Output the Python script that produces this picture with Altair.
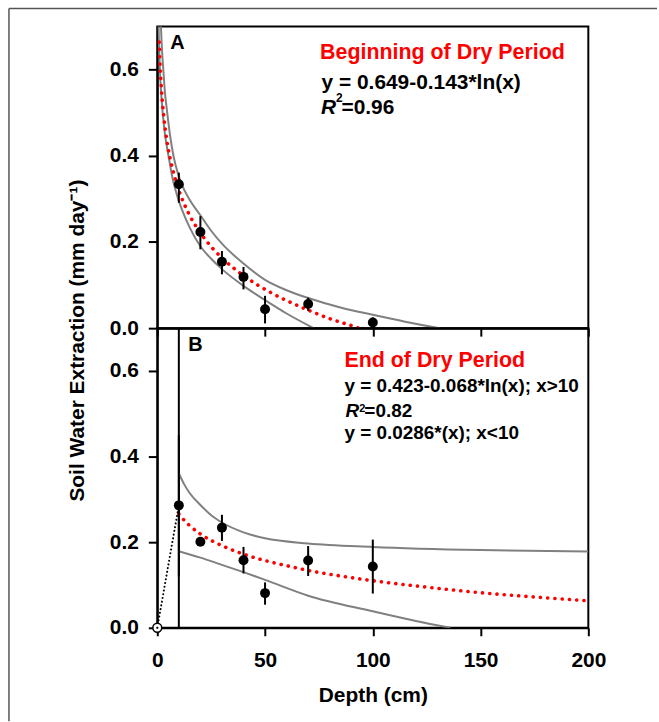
import altair as alt
import pandas as pd

FONT = "Liberation Sans"

# ---------------- data ----------------
depth = [10, 20, 30, 40, 50, 70, 100]

a_mean = [0.334, 0.223, 0.154, 0.119, 0.044, 0.056, 0.013]
a_low = [0.291, 0.183, 0.125, 0.090, 0.011, 0.040, 0.000]
a_high = [0.361, 0.260, 0.179, 0.142, 0.075, 0.071, 0.025]

b_mean = [0.286, 0.201, 0.234, 0.158, 0.081, 0.157, 0.143]
b_low = [0.120, 0.195, 0.203, 0.127, 0.054, 0.121, 0.080]
b_high = [0.450, 0.207, 0.264, 0.189, 0.106, 0.191, 0.206]

a_fit_x = [0.9, 1.2, 1.6, 2, 2.5, 3, 4, 5, 6, 8, 10, 12, 15, 20, 25, 30, 40, 50, 60, 70, 80, 90, 93.5]
a_fit_y = [0.664, 0.623, 0.582, 0.550, 0.518, 0.492, 0.451, 0.419, 0.393, 0.352, 0.320, 0.294,
           0.262, 0.221, 0.189, 0.163, 0.122, 0.090, 0.064, 0.042, 0.022, 0.006, 0.0]

a_up_x = [1.5, 1.7, 2.2, 2.8, 3.5, 4.5, 6, 7.5, 9.5, 11.4, 15, 20, 25, 30, 40, 50, 60, 70, 85, 100, 115, 131]
a_up_y = [0.73, 0.70, 0.645, 0.60, 0.55, 0.505, 0.445, 0.40, 0.36, 0.333, 0.298, 0.262, 0.226,
          0.196, 0.150, 0.112, 0.088, 0.070, 0.048, 0.031, 0.015, 0.0]

a_dn_x = [0.5, 0.6, 0.8, 1.2, 1.8, 2.5, 3.5, 5.2, 7, 9.5, 12, 15, 20, 25, 30, 40, 50, 60, 72.5]
a_dn_y = [0.73, 0.70, 0.66, 0.60, 0.545, 0.50, 0.452, 0.40, 0.350, 0.303, 0.268, 0.234, 0.190,
          0.161, 0.137, 0.098, 0.065, 0.034, 0.0]

b_fit_x = [10, 12.5, 15, 20, 25, 30, 40, 50, 60, 70, 85, 100, 125, 150, 175, 200]
b_fit_y = [0.266, 0.251, 0.239, 0.219, 0.204, 0.192, 0.172, 0.157, 0.145, 0.134, 0.121, 0.110,
           0.095, 0.082, 0.072, 0.063]

b_up_x = [10, 12.5, 15, 20, 25, 30, 40, 50, 70, 100, 150, 200]
b_up_y = [0.361, 0.335, 0.315, 0.287, 0.263, 0.246, 0.223, 0.209, 0.197, 0.189, 0.1815, 0.178]

b_dn_x = [10, 20, 30, 40, 50, 70, 100, 120, 136]
b_dn_y = [0.179, 0.164, 0.147, 0.130, 0.112, 0.075, 0.0386, 0.016, 0.0]

b_lin_x = [0, 10]
b_lin_y = [0.0, 0.286]

origin_x = [0]
origin_y = [0.0]

b_vline_x = [10]
b_vline_y0 = [0.0]
b_vline_y1 = [0.7]

x_ticks = [0, 50, 100, 150, 200]
y_ticks = [0.0, 0.2, 0.4, 0.6]

label_a = ["A"]
label_b = ["B"]
title_a = ["Beginning of Dry Period"]
eq_a = ["y = 0.649-0.143*ln(x)"]
r2_a = ["=0.96"]
title_b = ["End of Dry Period"]
eq_b1 = ["y = 0.423-0.068*ln(x); x>10"]
r2_b = ["=0.82"]
eq_b2 = ["y = 0.0286*(x); x<10"]
r_txt = ["R"]
sup_txt = ["2"]

y_title = "Soil Water Extraction (mm day\u207b\u00b9)"
x_title = "Depth (cm)"

# ---------------- helpers ----------------
xs = alt.Scale(domain=[0, 200], nice=False, zero=False)
ys = alt.Scale(domain=[0, 0.7], nice=False, zero=False)

common_axis = dict(grid=False, domainColor="black", domainWidth=2, tickColor="black",
                   tickWidth=2, labelFont=FONT, labelFontSize=21, labelFontWeight="bold",
                   labelColor="black", titleFont=FONT, titleFontWeight="bold",
                   titleColor="black", titleFontSize=21)

ax_a_x = alt.Axis(values=x_ticks, labels=False, tickSize=8, title=None, **common_axis)
ax_a_y = alt.Axis(values=y_ticks, format=".1f", tickSize=9, labelPadding=10,
                  title=y_title, titleX=-80, titleY=315, titleAngle=270,
                  titleAlign="center", titleBaseline="middle", **common_axis)
ax_b_x = alt.Axis(values=x_ticks, format="d", tickSize=8, labelPadding=14, labelFlush=False,
                  title=x_title, titleX=216.5, titleY=68, titleAlign="center",
                  titleBaseline="middle", **common_axis)
ax_b_y = alt.Axis(values=y_ticks, format=".1f", tickSize=9, labelPadding=10, title=None,
                  **common_axis)


def X(f, ax):
    return alt.X(f, type="quantitative", scale=xs, axis=ax)


def Y(f, ax):
    return alt.Y(f, type="quantitative", scale=ys, axis=ax)


def line_df(xv, yv):
    return pd.DataFrame({"x": xv, "y": yv})


def text_layer(txt, px, py, size, color="black", style="normal"):
    return alt.Chart(pd.DataFrame({"t": txt})).mark_text(
        align="left", baseline="alphabetic", font=FONT, fontSize=size,
        fontWeight="bold", fontStyle=style, color=color
    ).encode(x=alt.value(px), y=alt.value(py), text="t:N")


def panel(ax_x, ax_y, fit_x, fit_y, up_x, up_y, dn_x, dn_y, mean, low, high):
    pts = pd.DataFrame({"x": depth, "y": mean, "lo": low, "hi": high})
    gray_up = alt.Chart(line_df(up_x, up_y)).mark_line(
        color="#808080", strokeWidth=2, clip=True, interpolate="monotone"
    ).encode(x=X("x", ax_x), y=Y("y", ax_y))
    gray_dn = alt.Chart(line_df(dn_x, dn_y)).mark_line(
        color="#808080", strokeWidth=2, clip=True, interpolate="monotone"
    ).encode(x=X("x", ax_x), y=Y("y", ax_y))
    red = alt.Chart(line_df(fit_x, fit_y)).mark_line(
        color="#ff0000", strokeWidth=3.6, strokeDash=[0.1, 7.2], strokeCap="round",
        interpolate="monotone", clip=True
    ).encode(x=X("x", ax_x), y=Y("y", ax_y))
    err = alt.Chart(pts).mark_rule(color="black", strokeWidth=2).encode(
        x=X("x", ax_x), y=Y("lo", ax_y), y2=alt.Y2("hi"))
    dots = alt.Chart(pts).mark_circle(color="black", opacity=1, size=100).encode(
        x=X("x", ax_x), y=Y("y", ax_y))
    return [gray_up, gray_dn, red, err, dots]


# ---------------- panel A ----------------
frame_left = alt.Chart(pd.DataFrame({"k": [0]})).mark_rule(color="#555555", strokeWidth=1.5).encode(
    x=alt.value(-149), y=alt.value(-18), y2=alt.value(698))
frame_top = alt.Chart(pd.DataFrame({"k": [0]})).mark_rule(color="#555555", strokeWidth=1.5).encode(
    x=alt.value(-149), x2=alt.value(502), y=alt.value(-18))

layers_a = panel(ax_a_x, ax_a_y, a_fit_x, a_fit_y, a_up_x, a_up_y, a_dn_x, a_dn_y,
                 a_mean, a_low, a_high)
layers_a += [
    text_layer(label_a, 13, 23, 20),
    text_layer(title_a, 163.5, 33, 21.5, color="#ff0000"),
    text_layer(eq_a, 165, 62.5, 21),
    text_layer(r_txt, 164.5, 87.5, 21, style="italic"),
    text_layer(sup_txt, 179.5, 76, 12),
    text_layer(r2_a, 185, 87.5, 21),
    frame_left, frame_top,
]
chart_a = alt.layer(*layers_a).properties(width=433, height=303)

# ---------------- panel B ----------------
vline = alt.Chart(pd.DataFrame({"x": b_vline_x, "y0": b_vline_y0, "y1": b_vline_y1})).mark_rule(
    color="black", strokeWidth=2).encode(x=X("x", ax_b_x), y=Y("y0", ax_b_y), y2=alt.Y2("y1"))
black_dot = alt.Chart(line_df(b_lin_x, b_lin_y)).mark_line(
    color="black", strokeWidth=2, strokeDash=[0.1, 3.7], strokeCap="round"
).encode(x=X("x", ax_b_x), y=Y("y", ax_b_y))
open_pt = alt.Chart(line_df(origin_x, origin_y)).mark_point(
    shape="circle", filled=True, fill="white", stroke="black", strokeWidth=1.5, size=80, opacity=1
).encode(x=X("x", ax_b_x), y=Y("y", ax_b_y))
center_pt = alt.Chart(line_df(origin_x, origin_y)).mark_circle(
    color="black", size=5, opacity=1
).encode(x=X("x", ax_b_x), y=Y("y", ax_b_y))

layers_b = [vline] + panel(ax_b_x, ax_b_y, b_fit_x, b_fit_y, b_up_x, b_up_y, b_dn_x, b_dn_y,
                           b_mean, b_low, b_high)
layers_b += [
    black_dot, open_pt, center_pt,
    text_layer(label_b, 31, 23, 20),
    text_layer(title_b, 188, 39.5, 21.5, color="#ff0000"),
    text_layer(eq_b1, 188, 64.5, 19),
    text_layer(r_txt, 189, 89.5, 19, style="italic"),
    text_layer(sup_txt, 203, 84.5, 11),
    text_layer(r2_b, 208, 89.5, 19),
    text_layer(eq_b2, 188, 111, 19),
]
chart_b = alt.layer(*layers_b).properties(width=433, height=301)

chart = alt.vconcat(chart_a, chart_b, spacing=0, bounds="flush").properties(
    autosize=alt.AutoSizeParams(type="pad"),
    padding={"left": 7, "top": 5, "right": 0, "bottom": 0},
    background="white",
).configure_view(stroke="black", strokeWidth=2)

chart.save("out.html", embed_options={"renderer": "svg", "actions": False})
